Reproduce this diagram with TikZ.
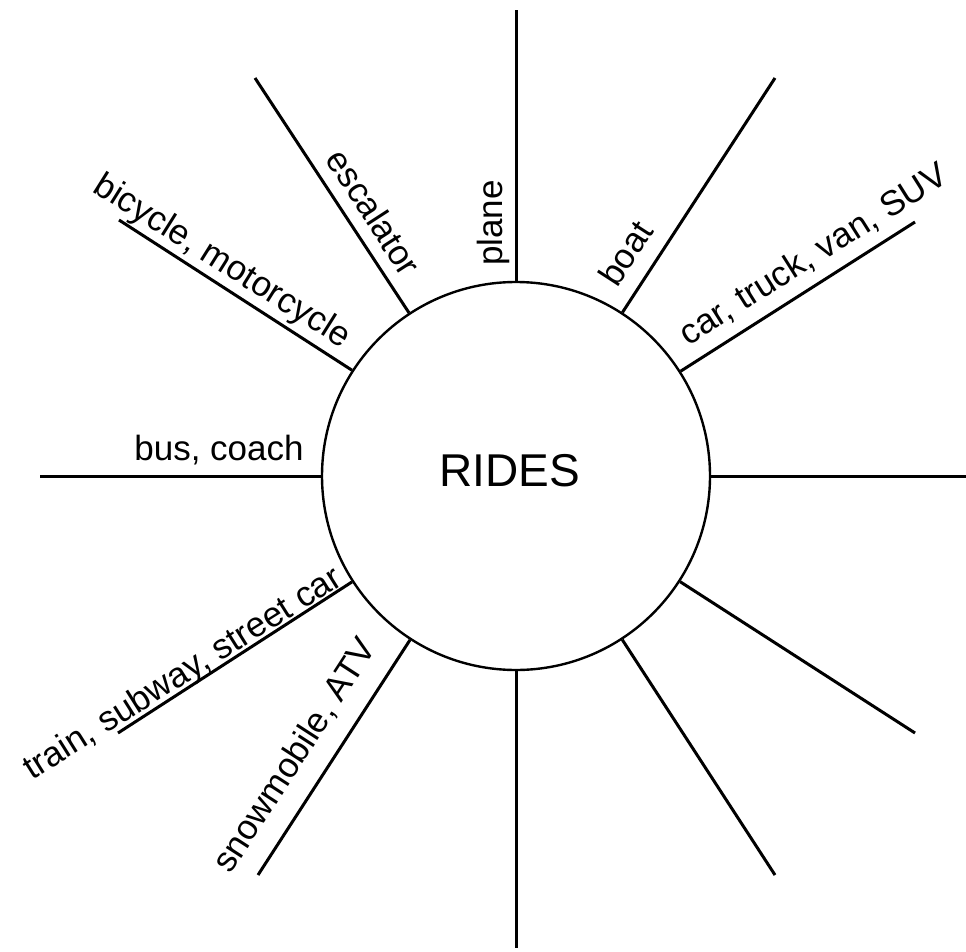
\documentclass[tikz,border=0pt]{standalone}
\usepackage{fontspec}
\setmainfont{Liberation Sans}
\begin{document}
\begin{tikzpicture}[x=1pt,y=-1pt,
  spoke/.style={line width=3pt},
  lab/.style={font=\fontsize{35}{40}\selectfont, text height=25pt, text depth=0pt, inner sep=0pt},
  hubstyle/.style={circle, draw, line width=2.4pt, minimum size=388pt, inner sep=0pt, font=\fontsize{46}{50}\selectfont}]
\useasboundingbox (0,0) rectangle (966,952);
\fill[white] (0,0) rectangle (966,952);
\node[hubstyle] (hub) at (516,476) {};
\node[font=\fontsize{46}{50}\selectfont, text height=33pt, text depth=0pt, inner sep=0pt] (title) at (510,470) {RIDES};
% outer ends of spokes
\coordinate (oN) at (516,10);
\coordinate (oS) at (516,948);
\coordinate (oW) at (40,476);
\coordinate (oE) at (966,476);
\coordinate (o120) at (255,78);
\coordinate (o150) at (119,220);
\coordinate (o60) at (775,78);
\coordinate (o30) at (915,222);
\coordinate (o210) at (118,733);
\coordinate (o240) at (258,875);
\coordinate (o300) at (775,875);
\coordinate (o330) at (915,733);
\foreach \o in {oN,oS,oW,oE,o120,o150,o60,o30,o210,o240,o300,o330}
  \draw[spoke] (hub) -- (\o);
% labels
\node[lab, rotate=90] (plane) at (490,223) {plane};
\node[lab, rotate=-57.1] (esc) at (374,212) {escalator};
\node[lab, rotate=-32.1] (bike) at (223.6,259.3) {bicycle, motorcycle};
\node[lab, rotate=57.1] (boat) at (625.3,253) {boat};
\node[lab, rotate=32.2] (car) at (812.4,253.2) {car, truck, van, SUV};
\node[lab] (bus) at (219,447.5) {bus, coach};
\node[lab, rotate=32.2] (train) at (181.6,671.6) {train, subway, street car};
\node[lab, rotate=57.1] (snow) at (293.6,754.8) {snowmobile, ATV};
\end{tikzpicture}
\end{document}
